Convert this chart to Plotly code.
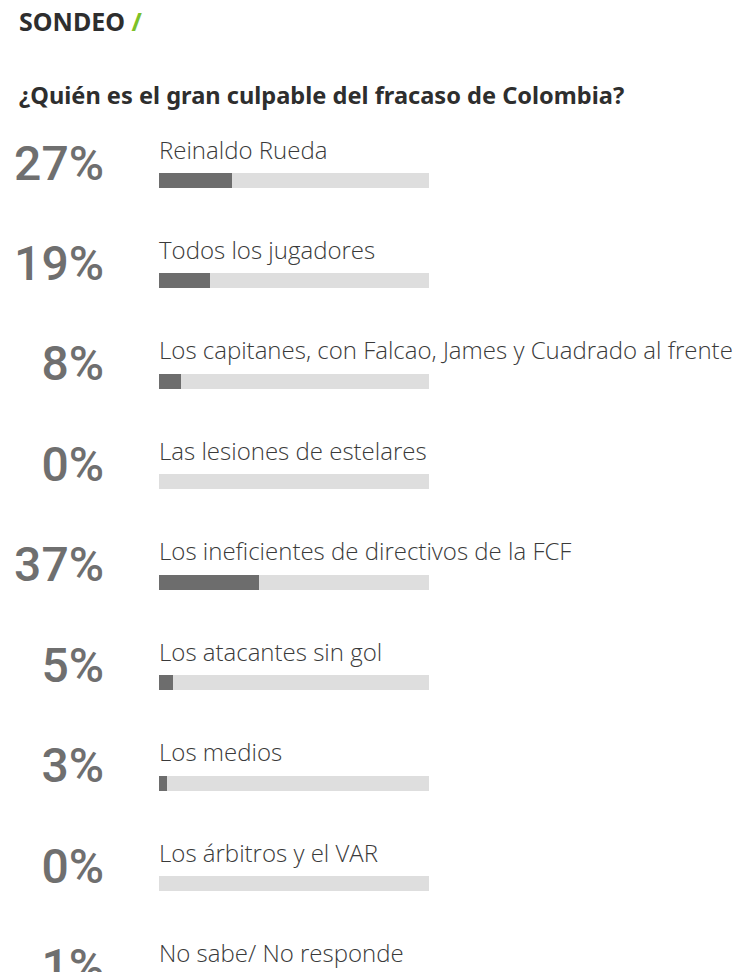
import plotly.graph_objects as go

answers = [
    "Reinaldo Rueda",
    "Todos los jugadores",
    "Los capitanes, con Falcao, James y Cuadrado al frente",
    "Las lesiones de estelares",
    "Los ineficientes de directivos de la FCF",
    "Los atacantes sin gol",
    "Los medios",
    "Los árbitros y el VAR",
    "No sabe/ No responde",
]
percents = [27, 19, 8, 0, 37, 5, 3, 0, 1]

title = "SONDEO"
question = "¿Quién es el gran culpable del fracaso de Colombia?"

# page is 756 x 972, the plot sits 8px in from the top-left (body margin)
OFF = 8
W, H = 756 - OFF, 972 - OFF
bar_x0, bar_x1 = 159 - OFF, 429 - OFF      # bar track, 0..100 %
row0, row_step = 180.5 - OFF, 100.45       # bar centre of first row, spacing
px_per_pct = (bar_x1 - bar_x0) / 100
px_per_row = row_step

rows = list(range(len(answers)))
pct_text = ["%d%%" % p for p in percents]

fig = go.Figure()

# grey track
fig.add_trace(go.Bar(
    x=[100] * len(rows), y=rows, orientation="h",
    width=15 / px_per_row, marker=dict(color="#dedede", line=dict(width=0)),
    hoverinfo="skip", showlegend=False,
))
# filled part
fig.add_trace(go.Bar(
    x=percents, y=rows, orientation="h",
    width=15 / px_per_row, marker=dict(color="#6d6d6d", line=dict(width=0)),
    hoverinfo="skip", showlegend=False,
))

# big percentages
fig.add_trace(go.Scatter(
    x=[(104 - OFF - bar_x0) / px_per_pct] * len(rows),
    y=[r - 13 / px_per_row for r in rows],
    mode="text", text=pct_text, textposition="middle left",
    textfont=dict(family="Roboto", size=48, color="#6f6f6f", weight=500),
    cliponaxis=False, hoverinfo="skip", showlegend=False,
))
# answer labels
fig.add_trace(go.Scatter(
    x=[(159 - OFF - bar_x0) / px_per_pct] * len(rows),
    y=[r - 28 / px_per_row for r in rows],
    mode="text", text=answers, textposition="middle right",
    textfont=dict(family="Open Sans", size=24, color="#3a3a3a", weight=300),
    cliponaxis=False, hoverinfo="skip", showlegend=False,
))

fig.add_annotation(
    text=title + ' <span style="color:#7cc128">/</span>',
    x=(17 - OFF) / W, y=1 - (21 - OFF) / H, xref="paper", yref="paper",
    xanchor="left", yanchor="middle", showarrow=False,
    font=dict(family="Noto Sans", size=25, color="#2e2e2e", weight=700),
)
fig.add_annotation(
    text=question,
    x=(17 - OFF) / W, y=1 - (95 - OFF) / H, xref="paper", yref="paper",
    xanchor="left", yanchor="middle", showarrow=False,
    font=dict(family="Noto Sans", size=23.6, color="#2e2e2e", weight=700),
)

fig.update_layout(
    width=W, height=H,
    margin=dict(l=0, r=0, t=0, b=0),
    barmode="overlay",
    bargap=0,
    paper_bgcolor="white",
    plot_bgcolor="white",
    xaxis=dict(
        range=[-bar_x0 / px_per_pct, (W - bar_x0) / px_per_pct],
        visible=False, fixedrange=True,
    ),
    yaxis=dict(
        range=[(H - row0) / px_per_row, -row0 / px_per_row],
        visible=False, fixedrange=True,
    ),
)

fig.write_html("out.html")
